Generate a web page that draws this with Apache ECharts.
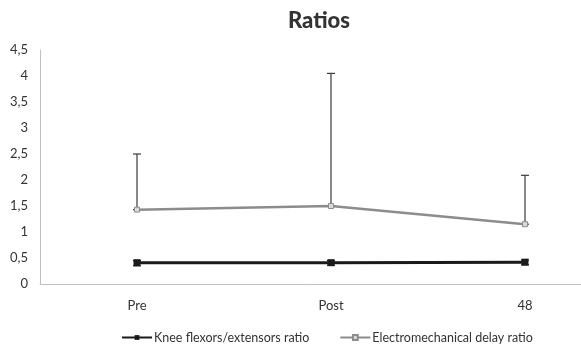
<!DOCTYPE html>
<html>
<head>
<meta charset="utf-8">
<script src="https://cdn.jsdelivr.net/npm/echarts@6/dist/echarts.min.js"></script>
<style>
  html, body { margin: 0; padding: 0; background: #fff; }
  #chart { width: 581px; height: 349px; }
</style>
</head>
<body>
<div id="chart"></div>
<script>
// categories
const categories = ['Pre', 'Post', '48'];
// series values
const kneeRatio = [0.41, 0.41, 0.42];
const kneeLow = [0.35, 0.36, 0.37];
const kneeHigh = [0.45, 0.45, 0.46];
const emdRatio = [1.43, 1.50, 1.15];
const emdHigh = [2.50, 4.05, 2.09];

const myChart = echarts.init(document.getElementById('chart'));

// error bar drawn with custom series
function errorBar(color, lowArr, highArr) {
  return {
    type: 'custom',
    silent: true,
    z: 1,
    data: categories.map((c, i) => [i, lowArr[i], highArr[i]]),
    renderItem: (params, api) => {
      const lo = api.coord([api.value(0), api.value(1)]);
      const hi = api.coord([api.value(0), api.value(2)]);
      const cap = 4;
      const style = { stroke: color, lineWidth: 1.2 };
      return {
        type: 'group',
        children: [
          { type: 'line', shape: { x1: lo[0], y1: lo[1], x2: hi[0], y2: hi[1] }, style },
          { type: 'line', shape: { x1: hi[0] - cap, y1: hi[1], x2: hi[0] + cap, y2: hi[1] }, style },
          { type: 'line', shape: { x1: lo[0] - cap, y1: lo[1], x2: lo[0] + cap, y2: lo[1] }, style }
        ]
      };
    }
  };
}

const option = {
  animation: false,
  textStyle: { fontFamily: 'Lato' },
  title: {
    text: 'Ratios',
    left: 314,
    textAlign: 'center',
    top: 5,
    textStyle: { fontSize: 22, fontWeight: 900, color: '#333', fontFamily: 'Lato' }
  },
  grid: { left: 40, top: 50, width: 582, height: 234, outerBoundsMode: 'none', containLabel: false },
  legend: {
    bottom: 0,
    left: 116,
    itemGap: 30,
    itemWidth: 30,
    itemHeight: 6,
    textStyle: { fontSize: 12.5, color: '#333', padding: [0, 0, 0, -3] },
    data: ['Knee flexors/extensors ratio', 'Electromechanical delay ratio']
  },
  xAxis: {
    type: 'category',
    data: categories,
    boundaryGap: true,
    axisLine: { lineStyle: { color: '#bfbfbf', width: 1 } },
    axisTick: { show: false },
    axisLabel: { color: '#333', fontSize: 13, margin: 15 }
  },
  yAxis: {
    type: 'value',
    min: 0,
    max: 4.5,
    interval: 0.5,
    axisLine: { show: true, lineStyle: { color: '#bfbfbf', width: 1 } },
    axisTick: { show: false },
    splitLine: { show: false },
    axisLabel: {
      color: '#333',
      fontSize: 13,
      margin: 12,
      formatter: v => String(v).replace('.', ',')
    }
  },
  series: [
    errorBar('#3a3a3a', emdRatio, emdHigh),
    errorBar('#222', kneeLow, kneeHigh),
    {
      name: 'Electromechanical delay ratio',
      type: 'line',
      data: emdRatio,
      symbol: 'rect',
      symbolSize: 5,
      z: 3,
      lineStyle: { color: '#8c8c8c', width: 2.5 },
      itemStyle: { color: '#d9d9d9', borderColor: '#8c8c8c', borderWidth: 1 }
    },
    {
      name: 'Knee flexors/extensors ratio',
      type: 'line',
      data: kneeRatio,
      symbol: 'rect',
      symbolSize: 7,
      z: 4,
      lineStyle: { color: '#1a1a1a', width: 3 },
      itemStyle: { color: '#1a1a1a' }
    }
  ]
};

myChart.setOption(option);
</script>
</body>
</html>
